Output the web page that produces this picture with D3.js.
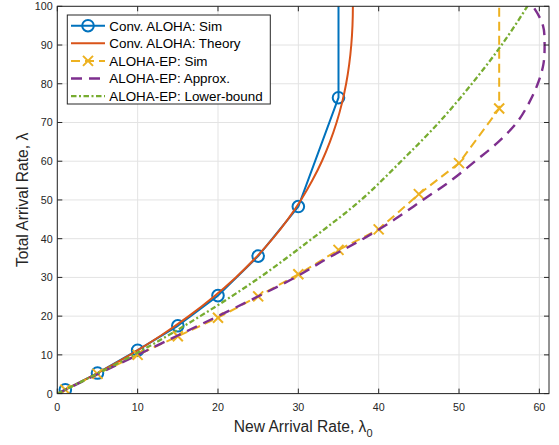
<!DOCTYPE html>
<html><head><meta charset="utf-8">
<script src="https://cdn.jsdelivr.net/npm/d3@7"></script>
<style>body{margin:0;background:#fff}svg{display:block}text{font-family:"Liberation Sans",Arial,Helvetica,sans-serif}</style>
</head><body><svg id="c" width="559" height="445"></svg>
<script>
// ---- data ----
const xTicks = [0, 10, 20, 30, 40, 50, 60];
const yTicks = [0, 10, 20, 30, 40, 50, 60, 70, 80, 90, 100];

const seriesNames = ["Conv. ALOHA: Sim", "Conv. ALOHA: Theory", "ALOHA-EP: Sim", "ALOHA-EP: Approx.", "ALOHA-EP: Lower-bound"];

const convSimX = [1, 5, 10, 15, 20, 25, 30, 35, 35];
const convSimY = [1.0, 5.3, 11.2, 17.5, 25.3, 35.5, 48.3, 76.4, 130];

const convTheoryY = [0, 5, 10, 15, 20, 25, 30, 35, 40, 45, 50, 55, 60, 65, 70, 75, 80, 85, 90, 95, 100, 105];
const convTheoryX = [0, 4.76, 9.05, 12.91, 16.37, 19.47, 22.22, 24.66, 26.81, 28.69, 30.33, 31.73, 32.93, 33.93, 34.76, 35.43, 35.95, 36.33, 36.59, 36.74, 36.79, 36.74];

const epSimX = [1, 5, 10, 15, 20, 25, 30, 35, 40, 45, 50, 55, 55];
const epSimY = [1.0, 5.1, 10.0, 14.8, 19.6, 25.1, 30.8, 37.1, 42.4, 51.5, 59.5, 73.6, 130];

const epApproxY = [0, 5, 10, 15, 20, 25, 30, 35, 40, 45, 50, 55, 60, 65, 70, 75, 80, 85, 90, 95, 100, 105];
const epApproxX = [0, 5, 10, 15, 20.0, 24.9, 29.6, 33.7, 38.1, 42.0, 45.5, 49.0, 52.0, 54.9, 57.2, 58.7, 59.8, 60.5, 60.65, 60.45, 59.2, 57.0];

const epLowerY = [0, 10, 20, 30, 40, 50, 60, 70, 80, 90, 100, 105];
const epLowerX = [0, 9.5, 17.8, 25.2, 31.7, 37.8, 42.8, 47.5, 51.6, 55.3, 58.5, 59.9];

// ---- layout ----
const L = 57.3, R = 549, T = 6.3, B = 393.6;
const svg = d3.select("#c");
const x = d3.scaleLinear().domain([0, 61.2]).range([L, R]);
const y = d3.scaleLinear().domain([0, 100]).range([B, T]);
const axisCol = "#262626";
const C = {blue: "#0072BD", orange: "#D95319", yellow: "#EDB120", purple: "#7E2F8E", green: "#77AC30"};

svg.append("defs").append("clipPath").attr("id", "clip")
  .append("rect").attr("x", L).attr("y", T).attr("width", R - L).attr("height", B - T);

// grid
const g = svg.append("g");
g.selectAll(".gx").data(xTicks).enter().append("line")
  .attr("x1", d => x(d)).attr("x2", d => x(d)).attr("y1", T).attr("y2", B)
  .attr("stroke", "#e3e3e3").attr("stroke-width", 1);
g.selectAll(".gy").data(yTicks).enter().append("line")
  .attr("x1", L).attr("x2", R).attr("y1", d => y(d)).attr("y2", d => y(d))
  .attr("stroke", "#e3e3e3").attr("stroke-width", 1);

// series
const styles = [
  {color: C.blue, width: 2, dash: null, marker: "o"},
  {color: C.orange, width: 2, dash: null, marker: null},
  {color: C.yellow, width: 2, dash: "9,5", marker: "x"},
  {color: C.purple, width: 2.4, dash: "11,7", marker: null},
  {color: C.green, width: 2.3, dash: "5.5,2.5,2,2.5", marker: null}
];
const series = [
  d3.zip(convSimX, convSimY),
  d3.zip(convTheoryX, convTheoryY),
  d3.zip(epSimX, epSimY),
  d3.zip(epApproxX, epApproxY),
  d3.zip(epLowerX, epLowerY)
];
const plot = svg.append("g").attr("clip-path", "url(#clip)");
const linear = d3.line().x(d => x(d[0])).y(d => y(d[1]));
const smooth = d3.line().x(d => x(d[0])).y(d => y(d[1])).curve(d3.curveCatmullRom.alpha(0.5));

function drawMarker(sel, type, cx, cy, color) {
  if (type === "o") {
    sel.append("circle").attr("cx", cx).attr("cy", cy).attr("r", 5.8)
      .attr("fill", "none").attr("stroke", color).attr("stroke-width", 2);
  } else if (type === "x") {
    const s = 5;
    sel.append("path").attr("d", `M${cx - s},${cy - s}L${cx + s},${cy + s}M${cx - s},${cy + s}L${cx + s},${cy - s}`)
      .attr("stroke", color).attr("stroke-width", 2).attr("fill", "none");
  }
}

series.forEach((data, i) => {
  const st = styles[i];
  const gen = (i === 0 || i === 2) ? linear : smooth;
  plot.append("path").attr("d", gen(data)).attr("fill", "none")
    .attr("stroke", st.color).attr("stroke-width", st.width)
    .attr("stroke-dasharray", st.dash).attr("stroke-linejoin", "round");
  if (st.marker) {
    data.forEach(d => drawMarker(plot, st.marker, x(d[0]), y(d[1]), st.color));
  }
});

// axes box and ticks
const ax = svg.append("g");
ax.append("rect").attr("x", L).attr("y", T).attr("width", R - L).attr("height", B - T)
  .attr("fill", "none").attr("stroke", axisCol).attr("stroke-width", 1);
const tl = 5;
xTicks.forEach(t => {
  ax.append("line").attr("x1", x(t)).attr("x2", x(t)).attr("y1", B).attr("y2", B - tl).attr("stroke", axisCol);
  ax.append("line").attr("x1", x(t)).attr("x2", x(t)).attr("y1", T).attr("y2", T + tl).attr("stroke", axisCol);
  ax.append("text").attr("x", x(t)).attr("y", 410.7).attr("text-anchor", "middle")
    .attr("font-size", 10.7).attr("fill", axisCol).text(t);
});
yTicks.forEach(t => {
  ax.append("line").attr("x1", L).attr("x2", L + tl).attr("y1", y(t)).attr("y2", y(t)).attr("stroke", axisCol);
  ax.append("line").attr("x1", R).attr("x2", R - tl).attr("y1", y(t)).attr("y2", y(t)).attr("stroke", axisCol);
  ax.append("text").attr("x", 52.7).attr("y", y(t) + 3.9).attr("text-anchor", "end")
    .attr("font-size", 10.7).attr("fill", axisCol).text(t);
});

// axis labels
const xl = svg.append("text").attr("x", (L + R) / 2).attr("y", 431.5).attr("text-anchor", "middle")
  .attr("font-size", 15.6).attr("fill", axisCol);
xl.append("tspan").text("New Arrival Rate, λ");
xl.append("tspan").attr("dy", 5).attr("font-size", 11).text("0");

svg.append("text").attr("transform", `translate(27.5,${(T + B) / 2}) rotate(-90)`)
  .attr("text-anchor", "middle").attr("font-size", 15.6).attr("fill", axisCol)
  .text("Total Arrival Rate, λ");

// legend
const lg = svg.append("g");
lg.append("rect").attr("x", 67.3).attr("y", 15).attr("width", 203).attr("height", 89)
  .attr("fill", "#fff").attr("stroke", axisCol).attr("stroke-width", 1);
seriesNames.forEach((name, i) => {
  const cy = 25.7 + i * 17.6;
  const st = styles[i];
  lg.append("line").attr("x1", 71).attr("x2", 105).attr("y1", cy).attr("y2", cy)
    .attr("stroke", st.color).attr("stroke-width", st.width).attr("stroke-dasharray", st.dash);
  if (st.marker) drawMarker(lg, st.marker, 88, cy, st.color);
  lg.append("text").attr("x", 109.3).attr("y", cy + 4.8).attr("font-size", 13.4)
    .attr("fill", "#000").text(name);
});
</script>
</body></html>
